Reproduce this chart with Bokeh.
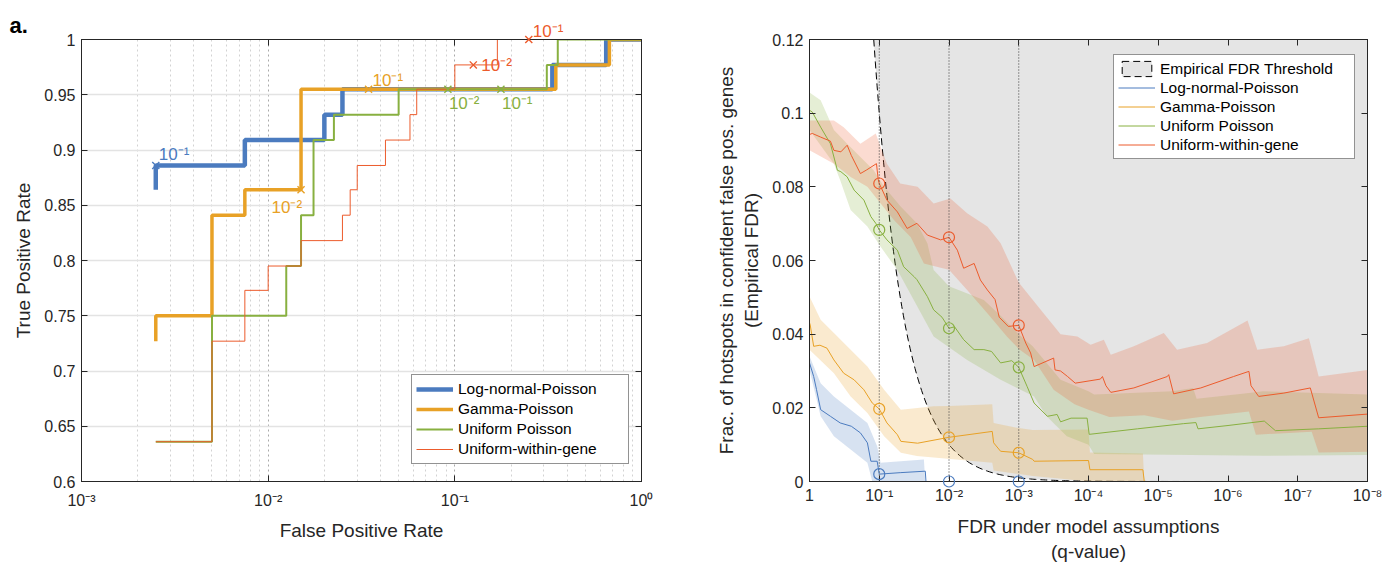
import numpy as np
from bokeh.plotting import figure
from bokeh.models import (Range1d, FixedTicker, CustomJSTickFormatter, LogAxis, LinearAxis,
                          Legend, LegendItem, Span)
from bokeh.layouts import row
from bokeh.embed import file_html
from bokeh.resources import INLINE
from bokeh.core.properties import value

FONT = "Liberation Sans"
INK = "#262626"
C_LNP = "#4b7bbf"
C_GP = "#e8a126"
C_UP = "#88b040"
C_UWG = "#ec5b2c"

# ---------------- Panel a: ROC curves ----------------
lnp_fpr = [0.0025, 0.0025, 0.0075, 0.0075, 0.020, 0.020, 0.025, 0.025, 0.333, 0.333, 0.647, 0.647, 1.0]
lnp_tpr = [0.864, 0.886, 0.886, 0.909, 0.909, 0.932, 0.932, 0.955, 0.955, 0.977, 0.977, 1.0, 1.0]

gp_fpr = [0.0025, 0.0025, 0.005, 0.005, 0.0075, 0.0075, 0.015, 0.015, 0.3475, 0.3475, 0.673, 0.673, 1.0]
gp_tpr = [0.727, 0.750, 0.750, 0.841, 0.841, 0.864, 0.864, 0.955, 0.955, 0.977, 0.977, 1.0, 1.0]

up_fpr = [0.0025, 0.005, 0.005, 0.0125, 0.0125, 0.015, 0.015, 0.0175, 0.0175, 0.0225, 0.0225,
          0.05, 0.05, 0.311, 0.311, 0.356, 0.356, 1.0]
up_tpr = [0.636, 0.636, 0.750, 0.750, 0.795, 0.795, 0.841, 0.841, 0.909, 0.909, 0.932,
          0.932, 0.955, 0.955, 0.977, 0.977, 1.0, 1.0]

uwg_fpr = [0.0025, 0.005, 0.005, 0.0075, 0.0075, 0.010, 0.010, 0.015, 0.015, 0.025, 0.025,
           0.0275, 0.0275, 0.030, 0.030, 0.0425, 0.0425, 0.0575, 0.0575, 0.0625, 0.0625,
           0.100, 0.100, 0.169, 0.169, 1.0]
uwg_tpr = [0.636, 0.636, 0.727, 0.727, 0.773, 0.773, 0.795, 0.795, 0.818, 0.818, 0.841,
           0.841, 0.864, 0.864, 0.886, 0.886, 0.909, 0.909, 0.932, 0.932, 0.955,
           0.955, 0.977, 0.977, 1.0, 1.0]

# q-value threshold markers on the ROC curves
lnp_mk_fpr, lnp_mk_tpr, lnp_mk_txt = [0.0025], [0.886], ["10⁻¹"]
gp_mk_fpr, gp_mk_tpr, gp_mk_txt = [0.015, 0.0345], [0.864, 0.955], ["10⁻²", "10⁻¹"]
up_mk_fpr, up_mk_tpr, up_mk_txt = [0.0918, 0.1766], [0.955, 0.955], ["10⁻²", "10⁻¹"]
uwg_mk_fpr, uwg_mk_tpr, uwg_mk_txt = [0.1256, 0.249], [0.977, 1.0], ["10⁻²", "10⁻¹"]

roc_x_ticks = [1e-3, 1e-2, 1e-1, 1.0]
roc_y_ticks = [0.6, 0.65, 0.7, 0.75, 0.8, 0.85, 0.9, 0.95, 1.0]
panel_tag = "a."

# ---------------- Panel b: empirical FDR vs q-value ----------------
# x positions given as -log10(q)
uwg_d = [0, 0.04, 0.16, 0.30, 0.35, 0.45, 0.54, 0.60, 0.73, 0.82, 0.96, 0.985, 1.0, 1.11, 1.26, 1.40,
         1.54, 1.69, 1.88, 2.0, 2.12, 2.21, 2.36, 2.45, 2.55, 2.66, 2.72, 2.85, 3.0, 3.1, 3.17, 3.22,
         3.50, 3.52, 3.6, 3.7, 3.81, 4.17, 4.20, 4.25, 4.32, 4.65, 5.13, 5.15, 5.22, 5.61, 6.08,
         6.30, 6.33, 6.44, 6.80, 7.18, 7.30, 8.0]
uwg_v = [0.0942, 0.0945, 0.0935, 0.0924, 0.0899, 0.0895, 0.0913, 0.0885, 0.0836, 0.0846, 0.0863,
         0.0820, 0.0809, 0.0764, 0.0732, 0.0687, 0.0701, 0.0669, 0.0656, 0.0663, 0.0628, 0.0579,
         0.0592, 0.0547, 0.0520, 0.0494, 0.0446, 0.0421, 0.0424, 0.0376, 0.0349, 0.0312, 0.0335,
         0.0303, 0.0300, 0.0285, 0.0267, 0.0278, 0.0285, 0.0260, 0.0242, 0.0254, 0.0285, 0.0290,
         0.0238, 0.0254, 0.0285, 0.0299, 0.0260, 0.0231, 0.0240, 0.0254, 0.0173, 0.0183]
uwg_hi_d = [0, 0.35, 0.49, 0.73, 0.95, 1.11, 1.30, 1.55, 1.78, 2.02, 2.26, 2.55, 2.74, 3.0, 3.3, 3.6,
            3.84, 4.03, 4.22, 4.32, 4.65, 5.08, 5.27, 5.70, 6.08, 6.28, 6.42, 6.80, 7.16, 7.30, 8.0]
uwg_hi_v = [0.0980, 0.0980, 0.0962, 0.0917, 0.0945, 0.0863, 0.0809, 0.0800, 0.0755, 0.0768, 0.0728,
            0.0692, 0.0647, 0.0540, 0.0470, 0.0400, 0.0394, 0.0371, 0.0385, 0.0344, 0.0367, 0.0403,
            0.0358, 0.0376, 0.0416, 0.0437, 0.0358, 0.0367, 0.0389, 0.0285, 0.0303]
uwg_lo_d = [0, 0.35, 0.59, 0.83, 1.02, 1.21, 1.45, 1.64, 1.88, 2.0, 2.26, 2.55, 2.83, 3.0, 3.22, 3.5,
            3.8, 4.0, 4.3, 4.8, 5.2, 5.6, 6.3, 6.4, 7.2, 7.3, 8.0]
uwg_lo_v = [0.0899, 0.0863, 0.0827, 0.0800, 0.0755, 0.0710, 0.0664, 0.0592, 0.0580, 0.0575, 0.0520,
            0.0457, 0.0394, 0.0360, 0.0330, 0.0249, 0.0210, 0.0195, 0.0175, 0.0180, 0.0165, 0.0175,
            0.0190, 0.0127, 0.0135, 0.0079, 0.0081]

up_d = [0, 0.04, 0.16, 0.30, 0.35, 0.40, 0.45, 0.54, 0.64, 0.78, 0.88, 0.95, 1.0, 1.11, 1.26, 1.35,
        1.50, 1.54, 1.69, 1.78, 1.9, 2.0, 2.08, 2.21, 2.36, 2.5, 2.61, 2.74, 2.9, 3.0, 3.12, 3.22,
        3.41, 3.55, 3.6, 3.75, 3.98, 4.01, 4.7, 5.36, 5.54, 5.57, 6.0, 6.52, 6.68, 7.3, 8.0]
up_v = [0.1008, 0.1003, 0.0962, 0.0917, 0.0881, 0.0845, 0.0841, 0.0827, 0.0791, 0.0764, 0.0719,
        0.0701, 0.0683, 0.0656, 0.0628, 0.0583, 0.0556, 0.0548, 0.0502, 0.0466, 0.0446, 0.0416,
        0.0420, 0.0385, 0.0358, 0.0358, 0.0353, 0.0322, 0.0328, 0.0310, 0.0258, 0.0213, 0.0177,
        0.0182, 0.0162, 0.0172, 0.0172, 0.0128, 0.0143, 0.0157, 0.0160, 0.0143, 0.0152, 0.0164,
        0.0138, 0.0143, 0.0150]
up_hi_d = [0, 0.16, 0.35, 0.54, 0.73, 0.92, 1.07, 1.31, 1.54, 1.69, 1.78, 2.0, 2.5, 2.74, 3.0, 3.2,
           3.6, 4.0, 4.08, 5.2, 5.5, 5.55, 6.3, 6.5, 8.0]
up_hi_v = [0.1056, 0.1035, 0.0954, 0.0917, 0.0881, 0.0845, 0.0800, 0.0746, 0.0701, 0.0647, 0.0574,
           0.0530, 0.0493, 0.0450, 0.0400, 0.0367, 0.0276, 0.0245, 0.0236, 0.0245, 0.0254, 0.0225,
           0.0240, 0.0245, 0.0236]
up_lo_d = [0, 0.35, 0.44, 0.59, 0.83, 1.02, 1.26, 1.78, 2.26, 2.74, 3.22, 3.40, 3.69, 4.0, 4.08, 6.5, 8.0]
up_lo_v = [0.0954, 0.0863, 0.0818, 0.0737, 0.0692, 0.0637, 0.0574, 0.0394, 0.0330, 0.0276, 0.0231,
           0.0177, 0.0123, 0.0100, 0.0075, 0.0070, 0.0072]

gp_d = [0, 0.01, 0.06, 0.15, 0.25, 0.35, 0.49, 0.64, 0.78, 0.90, 1.0, 1.11, 1.26, 1.31, 1.55, 2.0,
        2.62, 2.64, 2.74, 3.0, 3.2, 3.22, 4.0, 4.02, 4.78, 4.80, 8.0]
gp_v = [0.0431, 0.0425, 0.0367, 0.0370, 0.0362, 0.0330, 0.0294, 0.0276, 0.0249, 0.0213, 0.0197,
        0.0159, 0.0127, 0.0109, 0.0104, 0.0120, 0.0136, 0.0105, 0.0082, 0.0078, 0.0060, 0.0055,
        0.0057, 0.0032, 0.0032, 0.0, 0.0]
gp_hi_d = [0, 0.16, 0.35, 0.59, 0.83, 1.07, 1.31, 1.78, 2.0, 2.62, 2.64, 3.0, 3.2, 4.0, 4.02, 4.78, 4.80]
gp_hi_v = [0.0502, 0.0439, 0.0403, 0.0358, 0.0312, 0.0249, 0.0195, 0.0204, 0.0205, 0.0210, 0.0159,
           0.0145, 0.0140, 0.0141, 0.0079, 0.0076, 0.0]
gp_lo_d = [0, 0.35, 0.59, 0.83, 1.07, 1.31, 1.54, 2.62, 2.64, 3.2, 4.02, 4.80]
gp_lo_v = [0.0358, 0.0294, 0.0231, 0.0186, 0.0123, 0.0078, 0.0069, 0.0051, 0.0030, 0.0015, 0.0, 0.0]

lnp_d = [0, 0.06, 0.10, 0.16, 0.30, 0.44, 0.60, 0.73, 0.83, 0.88, 0.97, 1.0, 1.3, 1.66, 1.67]
lnp_v = [0.0322, 0.0285, 0.0250, 0.0195, 0.0177, 0.0159, 0.0150, 0.0132, 0.0105, 0.0055, 0.0055,
         0.0020, 0.0024, 0.0028, 0.0]
lnp_hi_d = [0, 0.16, 0.35, 0.59, 0.83, 0.97, 1.02, 1.64, 1.66]
lnp_hi_v = [0.0340, 0.0267, 0.0231, 0.0195, 0.0159, 0.0096, 0.0051, 0.0060, 0.0]
lnp_lo_d = [0, 0.16, 0.35, 0.59, 0.83, 0.90, 1.66]
lnp_lo_v = [0.0303, 0.0177, 0.0123, 0.0087, 0.0051, 0.0, 0.0]

q_marks = [1e-1, 1e-2, 1e-3]
lnp_at_marks = [0.0020, 0.0, 0.0]
gp_at_marks = [0.0197, 0.0120, 0.0078]
up_at_marks = [0.0683, 0.0416, 0.0310]
uwg_at_marks = [0.0809, 0.0663, 0.0424]

fdr_x_ticks = [1.0, 1e-1, 1e-2, 1e-3, 1e-4, 1e-5, 1e-6, 1e-7, 1e-8]
fdr_y_ticks = [0.0, 0.02, 0.04, 0.06, 0.08, 0.10, 0.12]

# Empirical FDR threshold: empirical FDR equal to the nominal q-value
thr_q = list(np.logspace(np.log10(0.12), -8, 300))
thr_v = list(thr_q)


def q_of(d):
    return list(10.0 ** (-np.asarray(d, dtype=float)))


POW_JS = """
const sup = {"-": "\u207b", "0": "\u2070", "1": "\u00b9", "2": "\u00b2", "3": "\u00b3",
             "4": "\u2074", "5": "\u2075", "6": "\u2076", "7": "\u2077", "8": "\u2078", "9": "\u2079"};
const e = Math.round(Math.log10(tick));
if (e === 0 && ONE_AS_ONE) { return "1"; }
return "10" + String(e).split("").map(c => sup[c]).join("");
"""
DEC_JS = "return String(Number(tick.toFixed(2)));"


def style_axis(ax, labels=True):
    ax.axis_line_color = INK
    ax.major_tick_line_color = INK
    ax.major_tick_in = 6
    ax.major_tick_out = 0
    ax.minor_tick_line_color = None
    ax.major_label_text_font = FONT
    ax.major_label_text_color = INK
    ax.major_label_standoff = 6
    if labels:
        ax.major_label_text_font_size = "16px"
    else:
        ax.major_label_text_font_size = "1px"
        ax.major_label_text_alpha = 0.0
        ax.major_label_standoff = 0
    ax.axis_label_text_font = FONT
    ax.axis_label_text_font_size = "19px"
    ax.axis_label_text_font_style = "normal"
    ax.axis_label_text_color = INK
    ax.axis_label_standoff = 7


def style_legend(lg, label_width, row_h):
    lg.label_text_font = FONT
    lg.label_text_font_size = "15.5px"
    lg.label_text_color = "#000000"
    lg.glyph_width = 37
    lg.glyph_height = row_h
    lg.label_height = row_h
    lg.label_width = label_width
    lg.label_standoff = 5
    lg.padding = 4
    lg.spacing = 0
    lg.margin = 0
    lg.border_line_color = INK
    lg.border_line_width = 1
    lg.background_fill_color = "white"
    lg.background_fill_alpha = 1.0


# ======================= Left figure =======================
p1 = figure(width=700, height=564, x_axis_type="log",
            x_range=Range1d(1e-3, 1.0), y_range=Range1d(0.6, 1.0),
            output_backend="svg", toolbar_location=None,
            min_border_left=81, min_border_right=59, min_border_top=39, min_border_bottom=82)
p1.outline_line_color = INK
p1.outline_line_width = 1

tx1 = FixedTicker(ticks=roc_x_ticks,
                  minor_ticks=[m * t for t in roc_x_ticks[:-1] for m in range(2, 10)])
ty1 = FixedTicker(ticks=roc_y_ticks)
p1.xaxis.ticker = tx1
p1.yaxis.ticker = ty1
p1.xaxis.formatter = CustomJSTickFormatter(code=POW_JS.replace("ONE_AS_ONE", "false"))
p1.yaxis.formatter = CustomJSTickFormatter(code=DEC_JS)
p1.xaxis.axis_label = "False Positive Rate"
p1.yaxis.axis_label = "True Positive Rate"
for ax in p1.xaxis + p1.yaxis:
    style_axis(ax)
p1.xaxis.axis_label_standoff = 8
top1 = LogAxis(ticker=tx1)
style_axis(top1, labels=False)
p1.add_layout(top1, "above")
right1 = LinearAxis(ticker=ty1)
style_axis(right1, labels=False)
p1.add_layout(right1, "right")

p1.xgrid.grid_line_color = "#a9a9a9"
p1.xgrid.grid_line_dash = "2 3"
p1.xgrid.minor_grid_line_color = "#d2d2d2"
p1.xgrid.minor_grid_line_dash = "2 3"
p1.ygrid.grid_line_color = "#e3e3e3"
p1.ygrid.grid_line_width = 1.5

r_lnp = p1.line(lnp_fpr, lnp_tpr, line_width=4.5, line_color=C_LNP)
r_gp = p1.line(gp_fpr, gp_tpr, line_width=3.5, line_color=C_GP)
r_up = p1.line(up_fpr, up_tpr, line_width=2, line_color=C_UP)
r_uwg = p1.line(uwg_fpr, uwg_tpr, line_width=1, line_color=C_UWG)


def annotate(p, xs, ys, texts, color, places):
    p.scatter(xs, ys, marker="x", size=10, line_color=color, line_width=1.4, level="overlay")
    for x, y, t, (al, bl, dx, dy) in zip(xs, ys, texts, places):
        p.text([x], [y], text=[t], text_color=color, text_font=value(FONT), text_font_size="17px",
               text_align=al, text_baseline=bl, x_offset=dx, y_offset=dy, level="overlay")


annotate(p1, lnp_mk_fpr, lnp_mk_tpr, lnp_mk_txt, C_LNP, [("left", "bottom", 3, -1)])
annotate(p1, gp_mk_fpr, gp_mk_tpr, gp_mk_txt, C_GP,
         [("right", "top", 1, 8), ("left", "bottom", 4, 1)])
annotate(p1, up_mk_fpr, up_mk_tpr, up_mk_txt, C_UP,
         [("left", "top", 1, 5), ("left", "top", 1, 5)])
annotate(p1, uwg_mk_fpr, uwg_mk_tpr, uwg_mk_txt, C_UWG,
         [("left", "middle", 8, 1), ("left", "bottom", 4, 1)])

leg1 = Legend(items=[LegendItem(label="Log-normal-Poisson", renderers=[r_lnp]),
                     LegendItem(label="Gamma-Poisson", renderers=[r_gp]),
                     LegendItem(label="Uniform Poisson", renderers=[r_up]),
                     LegendItem(label="Uniform-within-gene", renderers=[r_uwg])],
              location=(330, 17))
style_legend(leg1, 166, 20)
p1.add_layout(leg1)

# panel tag "a." anchored at the top-left corner of the axes, shifted into the margin
p1.text([roc_x_ticks[0]], [roc_y_ticks[-1]], text=[panel_tag], text_color="#000000",
        text_font=value(FONT), text_font_size="22px", text_font_style="bold",
        text_align="left", text_baseline="alphabetic", x_offset=-72, y_offset=-14, level="overlay")

# ======================= Right figure =======================
p2 = figure(width=690, height=564, x_axis_type="log",
            x_range=Range1d(1.0, 1e-8), y_range=Range1d(0.0, 0.12),
            output_backend="svg", toolbar_location=None,
            min_border_left=109, min_border_right=23, min_border_top=39, min_border_bottom=82)
p2.outline_line_color = INK
p2.outline_line_width = 1
p2.grid.visible = False

tx2 = FixedTicker(ticks=fdr_x_ticks, minor_ticks=[])
ty2 = FixedTicker(ticks=fdr_y_ticks, minor_ticks=[])
p2.xaxis.ticker = tx2
p2.yaxis.ticker = ty2
p2.xaxis.formatter = CustomJSTickFormatter(code=POW_JS.replace("ONE_AS_ONE", "true"))
p2.yaxis.formatter = CustomJSTickFormatter(code=DEC_JS)
p2.xaxis.axis_label = "FDR under model assumptions\n(q-value)"
p2.yaxis.axis_label = "Frac. of hotspots in confident false pos. genes\n(Empirical FDR)"
for ax in p2.xaxis + p2.yaxis:
    style_axis(ax)
p2.xaxis.major_label_standoff = 5
p2.xaxis.axis_label_standoff = 9
top2 = LogAxis(ticker=tx2)
style_axis(top2, labels=False)
p2.add_layout(top2, "above")
right2 = LinearAxis(ticker=ty2)
style_axis(right2, labels=False)
p2.add_layout(right2, "right")

r_thr = p2.patch(thr_q + [1e-8], thr_v + [0.12], fill_color="#e5e5e5", line_color="#000000",
                 line_dash="7 4", line_width=1)


def band(p, hi_d, hi_v, lo_d, lo_v, color):
    xs = q_of(hi_d) + q_of(lo_d)[::-1]
    ys = list(hi_v) + list(lo_v)[::-1]
    p.patch(xs, ys, fill_color=color, fill_alpha=0.22, line_color=None)


band(p2, lnp_hi_d, lnp_hi_v, lnp_lo_d, lnp_lo_v, C_LNP)
band(p2, gp_hi_d, gp_hi_v, gp_lo_d, gp_lo_v, C_GP)
band(p2, up_hi_d, up_hi_v, up_lo_d, up_lo_v, C_UP)
band(p2, uwg_hi_d, uwg_hi_v, uwg_lo_d, uwg_lo_v, C_UWG)

for qm in q_marks:
    p2.add_layout(Span(location=qm, dimension="height", line_color="#3a3a3a",
                       line_dash="1 2", line_width=1))

l_lnp = p2.line(q_of(lnp_d), lnp_v, line_color=C_LNP, line_width=1)
l_gp = p2.line(q_of(gp_d), gp_v, line_color=C_GP, line_width=1)
l_up = p2.line(q_of(up_d), up_v, line_color=C_UP, line_width=1)
l_uwg = p2.line(q_of(uwg_d), uwg_v, line_color=C_UWG, line_width=1)

for vals, col in [(lnp_at_marks, C_LNP), (gp_at_marks, C_GP), (up_at_marks, C_UP), (uwg_at_marks, C_UWG)]:
    p2.scatter(q_marks, vals, marker="circle", size=11, fill_color=None, line_color=col,
               line_width=1.2, level="overlay")

leg2 = Legend(items=[LegendItem(label="Empirical FDR Threshold", renderers=[r_thr]),
                     LegendItem(label="Log-normal-Poisson", renderers=[l_lnp]),
                     LegendItem(label="Gamma-Poisson", renderers=[l_gp]),
                     LegendItem(label="Uniform Poisson", renderers=[l_up]),
                     LegendItem(label="Uniform-within-gene", renderers=[l_uwg])],
              location=(304, 322))
style_legend(leg2, 190, 19)
p2.add_layout(leg2)

layout = row(p1, p2)
with open("out.html", "w", encoding="utf-8") as f:
    f.write(file_html(layout, INLINE))
